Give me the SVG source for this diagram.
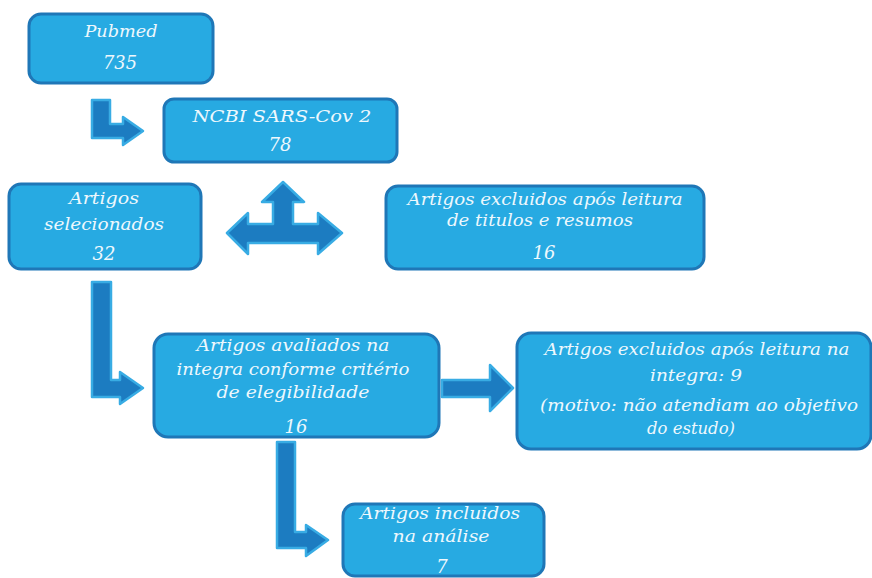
<svg xmlns="http://www.w3.org/2000/svg" width="872" height="578" viewBox="0 0 872 578">
<style>
.box{fill:#27aae2;stroke:#1f77b7;stroke-width:3}
.arr{fill:#1c7cc1;stroke:#38ace4;stroke-width:2.5;stroke-linejoin:round}
.t{font-family:"DejaVu Serif","Liberation Serif",serif;font-style:italic;font-size:17px;fill:#eef8fd;text-anchor:middle}
.n{font-size:18px}
</style>
<rect width="872" height="578" fill="#ffffff"/>
<g id="connectors">
<polygon class="arr" points="92,100 110,100 110,124 123,124 123,117 143,131 123,145 123,138 92,138"/>
<polygon class="arr" points="227,233 248,213 248,224 273,224 273,202 262,202 283,182 304,202 293,202 293,224 318,224 318,213 342,233 318,254 318,243 248,243 248,254"/>
<polygon class="arr" points="92,282 111,282 111,380 120,380 120,372 143,388 120,404 120,397 92,397"/>
<polygon class="arr" points="442,380 490,380 490,365 513,388 490,411 490,397 442,397"/>
<polygon class="arr" points="277,442 295,442 295,532 306,532 306,525 328,540 306,556 306,548 277,548"/>
</g>
<g id="pubmed">
<rect class="box" x="29" y="14" width="184" height="69" rx="12"/>
<text class="t" x="121" y="37" textLength="73" lengthAdjust="spacingAndGlyphs">Pubmed</text>
<text class="t n" x="120" y="69" textLength="34" lengthAdjust="spacingAndGlyphs">735</text>
</g>
<g id="ncbi">
<rect class="box" x="164" y="99" width="233" height="63" rx="10"/>
<text class="t" x="282" y="122" textLength="179" lengthAdjust="spacingAndGlyphs">NCBI SARS-Cov 2</text>
<text class="t n" x="280" y="151">78</text>
</g>
<g id="selecionados">
<rect class="box" x="9" y="184" width="192" height="85" rx="12"/>
<text class="t" x="104" y="204" textLength="70" lengthAdjust="spacingAndGlyphs">Artigos</text>
<text class="t" x="104" y="230" textLength="120" lengthAdjust="spacingAndGlyphs">selecionados</text>
<text class="t n" x="104" y="260">32</text>
</g>
<g id="excluidos1">
<rect class="box" x="386" y="186" width="318" height="83" rx="12"/>
<text class="t" x="545" y="205" textLength="275" lengthAdjust="spacingAndGlyphs">Artigos excluidos após leitura</text>
<text class="t" x="540" y="226" textLength="186" lengthAdjust="spacingAndGlyphs">de titulos e resumos</text>
<text class="t n" x="544" y="259">16</text>
</g>
<g id="avaliados">
<rect class="box" x="154" y="334" width="285" height="103" rx="14"/>
<text class="t" x="293" y="351" textLength="193" lengthAdjust="spacingAndGlyphs">Artigos avaliados na</text>
<text class="t" x="293" y="375" textLength="233" lengthAdjust="spacingAndGlyphs">integra conforme critério</text>
<text class="t" x="293" y="398" textLength="153" lengthAdjust="spacingAndGlyphs">de elegibilidade</text>
<text class="t n" x="296" y="433">16</text>
</g>
<g id="excluidos2">
<rect class="box" x="517" y="333" width="354" height="116" rx="14"/>
<text class="t" x="697" y="355" textLength="305" lengthAdjust="spacingAndGlyphs">Artigos excluidos após leitura na</text>
<text class="t" x="696" y="381" textLength="92" lengthAdjust="spacingAndGlyphs">integra: 9</text>
<text class="t" x="699" y="411" textLength="318" lengthAdjust="spacingAndGlyphs">(motivo: não atendiam ao objetivo</text>
<text class="t" x="691" y="434" textLength="88" lengthAdjust="spacingAndGlyphs">do estudo)</text>
</g>
<g id="incluidos">
<rect class="box" x="343" y="504" width="201" height="72" rx="12"/>
<text class="t" x="440" y="519" textLength="160" lengthAdjust="spacingAndGlyphs">Artigos incluidos</text>
<text class="t" x="441" y="542" textLength="97" lengthAdjust="spacingAndGlyphs">na análise</text>
<text class="t n" x="442" y="573">7</text>
</g>
</svg>
